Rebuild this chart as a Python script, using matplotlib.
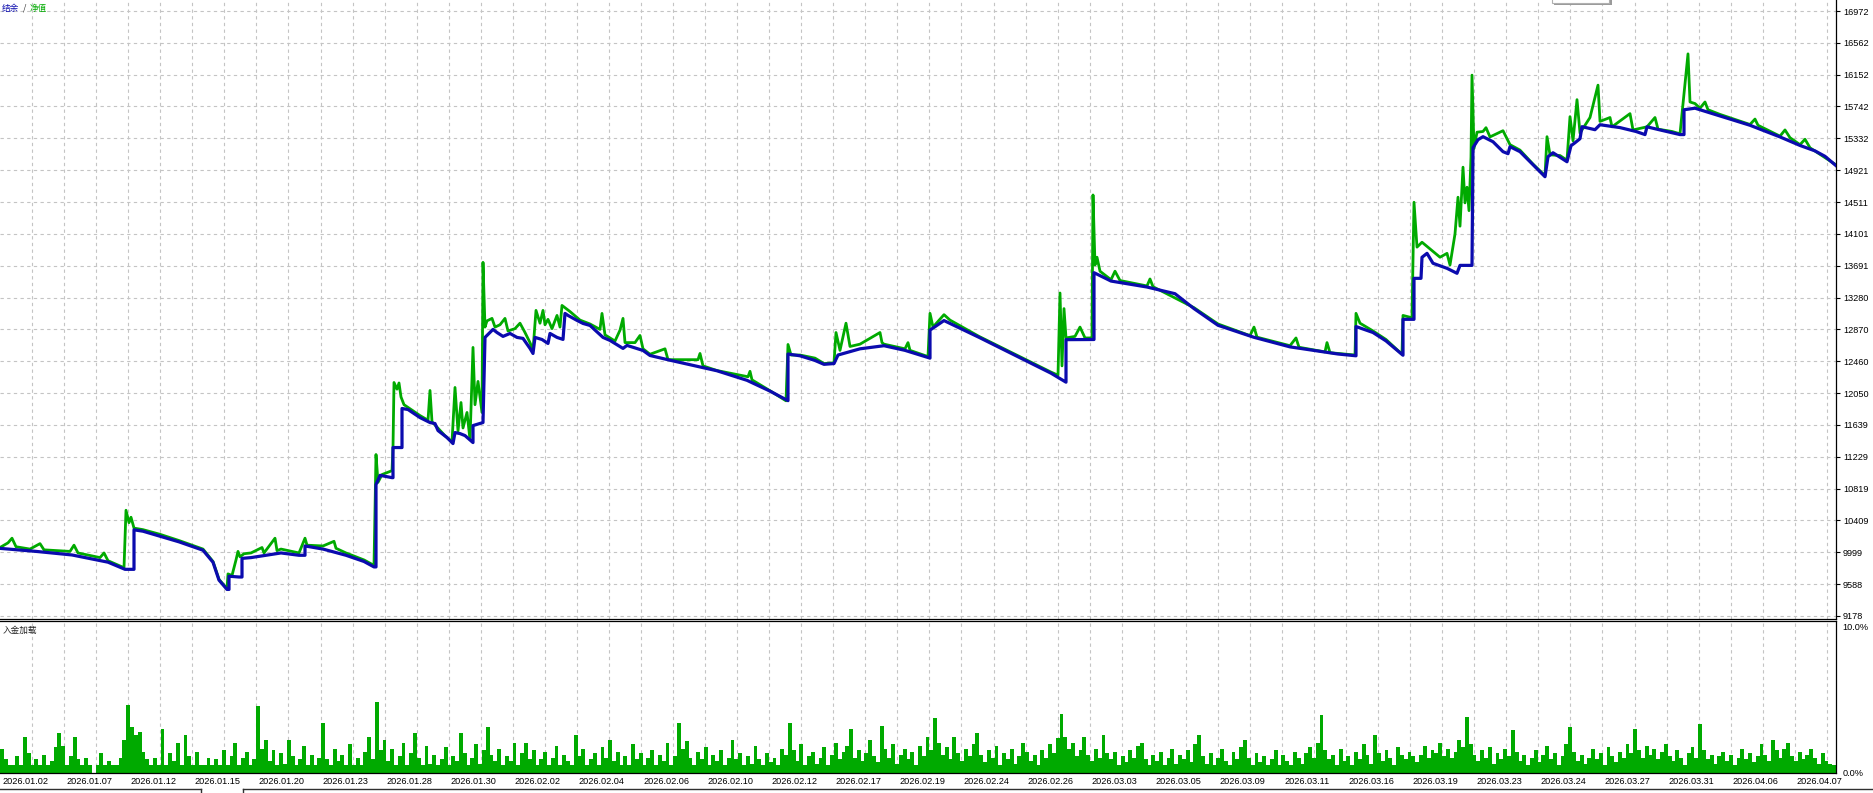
import matplotlib
matplotlib.use('Agg')
import matplotlib.pyplot as plt
from matplotlib.patches import Rectangle
from matplotlib.lines import Line2D
from matplotlib.transforms import ScaledTranslation
import numpy as np

# tester graph, x = bar position on the chart (0 .. 1836)
balance_x = [0, 36, 72, 108, 125, 134, 134, 143, 179, 203, 213, 219, 227, 229, 229, 239, 242, 242,
             251, 281, 299, 305, 305, 323, 346, 364, 374, 376, 376, 380, 392, 393, 393, 402, 402,
             408, 420, 430, 435, 438, 447, 453, 455, 460, 465, 473, 473, 483, 485, 493, 497, 503,
             510, 517, 523, 530, 533, 535, 542, 548, 550, 557, 563, 565, 568, 577, 583, 590, 603,
             610, 623, 627, 643, 650, 669, 717, 747, 770, 788, 788, 800, 815, 824, 834, 838, 860,
             884, 905, 930, 930, 944, 979, 1015, 1051, 1066, 1066, 1094, 1094, 1111, 1147, 1175,
             1194, 1218, 1254, 1290, 1338, 1356, 1356, 1373, 1386, 1403, 1403, 1414, 1414, 1421,
             1422, 1427, 1433, 1447, 1457, 1460, 1472, 1473, 1478, 1483, 1493, 1503, 1508, 1510,
             1520, 1533, 1545, 1548, 1553, 1567, 1571, 1575, 1580, 1582, 1595, 1600, 1620, 1636,
             1645, 1647, 1660, 1680, 1684, 1684, 1695, 1720, 1750, 1780, 1800, 1815, 1825, 1836]
balance_y = [10049, 10010, 9964, 9871, 9779, 9779, 10288, 10270, 10133, 10025, 9870, 9640, 9520,
             9520, 9690, 9680, 9680, 9920, 9930, 9990, 9960, 9960, 10080, 10040, 9960, 9880, 9810,
             9810, 10870, 10990, 10960, 10960, 11348, 11348, 11851, 11838, 11734, 11670, 11657,
             11567, 11477, 11399, 11541, 11528, 11502, 11412, 11631, 11670, 12767, 12870, 12830,
             12780, 12818, 12767, 12754, 12625, 12560, 12767, 12740, 12689, 12818, 12767, 12741,
             13076, 13050, 12986, 12947, 12921, 12767, 12728, 12625, 12664, 12599, 12534, 12476,
             12337, 12214, 12075, 11952, 12553, 12530, 12470, 12420, 12430, 12540, 12620, 12660,
             12600, 12500, 12861, 12984, 12768, 12537, 12306, 12190, 12738, 12740, 13601, 13493,
             13416, 13330, 13138, 12923, 12768, 12645, 12553, 12530, 12907, 12830, 12722, 12537,
             13000, 13000, 13528, 13528, 13799, 13850, 13722, 13657, 13593, 13695, 13695, 15211,
             15314, 15353, 15288, 15160, 15134, 15224, 15160, 14992, 14837, 15095, 15146, 15030,
             15237, 15275, 15327, 15482, 15443, 15507, 15470, 15420, 15380, 15480, 15440, 15380,
             15380, 15700, 15720, 15620, 15500, 15350, 15240, 15170, 15100, 14980]

equity_x = [0, 8, 12, 16, 30, 40, 44, 70, 74, 78, 100, 104, 108, 124, 126, 129, 131, 134, 143, 160,
            179, 203, 213, 219, 227, 228, 232, 236, 238, 240, 244, 251, 262, 264, 275, 277, 281,
            299, 305, 307, 323, 334, 336, 346, 364, 374, 376, 378, 382, 392, 393, 394, 397, 399,
            401, 404, 420, 428, 430, 432, 445, 452, 455, 458, 461, 463, 467, 470, 473, 475, 478,
            480, 482, 483, 485, 487, 492, 495, 500, 505, 508, 515, 520, 525, 530, 533, 536, 540,
            543, 545, 548, 552, 557, 560, 562, 565, 570, 580, 590, 600, 602, 605, 615, 620, 623,
            625, 635, 640, 643, 650, 665, 668, 698, 700, 703, 717, 748, 750, 752, 770, 786, 788,
            791, 800, 815, 824, 834, 836, 840, 846, 850, 860, 880, 882, 884, 905, 908, 910, 928,
            930, 933, 944, 950, 979, 1015, 1051, 1058, 1060, 1062, 1064, 1066, 1075, 1080, 1085,
            1092, 1093, 1095, 1097, 1100, 1111, 1115, 1120, 1147, 1150, 1153, 1194, 1218, 1250,
            1254, 1257, 1290, 1296, 1299, 1325, 1327, 1330, 1355, 1356, 1360, 1373, 1386, 1402,
            1403, 1412, 1414, 1417, 1422, 1440, 1447, 1450, 1455, 1458, 1460, 1463, 1465, 1467,
            1469, 1471, 1472, 1474, 1477, 1483, 1486, 1490, 1503, 1510, 1520, 1533, 1545, 1547,
            1550, 1560, 1567, 1570, 1573, 1577, 1580, 1585, 1590, 1598, 1600, 1610, 1612, 1630,
            1633, 1647, 1655, 1658, 1672, 1680, 1688, 1690, 1695, 1700, 1705, 1708, 1720, 1750,
            1755, 1758, 1780, 1785, 1790, 1800, 1805, 1810, 1836]
equity_y = [10060, 10120, 10180, 10070, 10040, 10110, 10030, 10010, 10090, 9990, 9930, 9990, 9890,
            9800, 10540, 10380, 10450, 10310, 10290, 10230, 10150, 10040, 9880, 9650, 9530, 9720,
            9700, 9900, 10010, 9940, 9980, 9990, 10060, 9990, 10180, 10020, 10040, 9990, 10180,
            10090, 10080, 10140, 10050, 9990, 9900, 9830, 11258, 10900, 11000, 11050, 11350, 12186,
            12100, 12180, 12000, 11900, 11760, 11700, 12083, 11680, 11500, 11420, 12122, 11560,
            11928, 11600, 11800, 11450, 12638, 11900, 12200, 12000, 11800, 13734, 12900, 12980,
            13012, 12900, 12930, 13012, 12850, 12880, 12950, 12830, 12700, 12600, 13115, 12950,
            13115, 12930, 13000, 12880, 13050, 12900, 13179, 13150, 13100, 12990, 12940, 12870,
            13076, 12800, 12720, 12860, 13012, 12700, 12700, 12792, 12620, 12550, 12620, 12480,
            12480, 12560, 12400, 12340, 12260, 12330, 12220, 12080, 11950, 12676, 12540, 12540,
            12500, 12430, 12440, 12830, 12600, 12950, 12650, 12680, 12830, 12700, 12680, 12620,
            12700, 12600, 12520, 13077, 12900, 13060, 12990, 12780, 12550, 12320, 12280, 13339,
            12400, 13138, 12760, 12780, 12900, 12760, 12760, 14602, 13700, 13800, 13620, 13510,
            13620, 13500, 13430, 13520, 13420, 13150, 12940, 12790, 12900, 12770, 12660, 12760,
            12640, 12580, 12700, 12570, 12540, 13077, 12950, 12850, 12740, 12550, 13050, 13020,
            14508, 13930, 13993, 13800, 13850, 13700, 14100, 14573, 14200, 14960, 14500, 14702,
            14400, 15090, 16146, 15200, 15411, 15420, 15469, 15350, 15430, 15250, 15180, 15000,
            14850, 15353, 15120, 15110, 15050, 15611, 15300, 15830, 15400, 15500, 15600, 16017,
            15550, 15600, 15480, 15650, 15440, 15480, 15600, 15450, 15420, 15390, 16420, 15800,
            15780, 15720, 15800, 15700, 15640, 15510, 15580, 15500, 15360, 15440, 15340, 15250,
            15320, 15210, 14990]

# deposit load, percent
load_pct = [1.6, 0.9, 0.5, 0.5, 1.1, 0.5, 2.4, 1.3, 0.5, 0.9,
            0.5, 1.2, 0.5, 0.8, 1.7, 2.6, 1.8, 0.5, 1.1, 2.4,
            0.9, 0.5, 1.0, 0.5, 0.0, 0.5, 1.3, 0.5, 0.8, 0.5,
            0.5, 1.0, 2.2, 4.5, 3.0, 2.5, 2.7, 1.4, 0.9, 0.5,
            1.0, 0.5, 2.9, 0.5, 1.3, 0.8, 2.0, 0.5, 2.5, 1.1,
            0.5, 1.4, 0.5, 0.5, 1.0, 0.5, 0.9, 0.5, 1.5, 0.5,
            1.1, 2.0, 0.5, 1.0, 1.4, 0.5, 0.9, 4.4, 1.6, 2.2,
            0.8, 1.5, 0.5, 1.3, 0.6, 2.2, 1.1, 0.5, 0.9, 1.8,
            0.5, 1.2, 0.5, 1.0, 3.3, 0.9, 0.5, 1.6, 0.8, 1.2,
            0.5, 1.9, 0.5, 1.0, 0.5, 1.4, 2.4, 0.9, 4.7, 1.5,
            2.2, 0.8, 1.6, 0.5, 1.1, 2.0, 0.5, 1.3, 2.6, 1.0,
            0.5, 1.8, 0.6, 1.2, 0.5, 0.9, 1.7, 0.5, 1.1, 0.8,
            2.6, 1.3, 0.5, 1.0, 1.9, 0.6, 1.5, 3.0, 1.2, 0.8,
            1.6, 0.5, 1.1, 0.8, 2.0, 0.5, 1.3, 2.0, 0.9, 1.5,
            0.5, 0.9, 1.4, 0.5, 1.0, 1.8, 0.5, 1.2, 0.8, 0.5,
            2.5, 1.1, 1.6, 0.5, 0.9, 1.3, 0.5, 1.7, 1.0, 2.2,
            0.8, 1.4, 0.5, 1.1, 0.5, 1.9, 0.9, 1.3, 0.5, 1.0,
            1.5, 0.5, 1.2, 0.8, 2.0, 0.5, 1.1, 3.3, 1.6, 2.1,
            1.0, 0.5, 1.4, 0.9, 1.7, 0.5, 1.2, 0.8, 1.5, 0.5,
            1.0, 2.2, 0.9, 1.3, 0.5, 1.1, 0.6, 1.8, 0.9, 0.5,
            1.3, 0.7, 1.0, 0.5, 1.6, 1.2, 3.3, 1.5, 0.8, 1.9,
            0.5, 1.1, 1.4, 0.6, 1.0, 1.7, 0.5, 1.2, 2.0, 0.9,
            1.4, 1.8, 2.9, 1.0, 1.5, 0.8, 1.3, 2.2, 1.1, 0.7,
            3.1, 1.6, 1.0, 1.9, 0.6, 1.2, 1.6, 0.9, 1.4, 0.5,
            1.8, 1.1, 2.4, 1.5, 3.6, 2.0, 1.2, 1.7, 0.9, 2.4,
            1.3, 0.8, 1.6, 1.1, 1.9, 2.6, 1.2, 0.7, 1.5, 1.0,
            1.8, 0.5, 1.3, 0.9, 1.6, 0.6, 1.1, 2.0, 1.4, 0.8,
            1.2, 0.5, 1.5, 1.0, 1.9, 1.3, 2.3, 3.9, 2.4, 1.6,
            2.0, 1.1, 1.5, 2.4, 1.2, 0.8, 1.6, 1.0, 2.5, 1.3,
            0.9, 1.4, 0.5, 1.1, 0.7, 1.5, 1.0, 1.8, 2.0, 0.9,
            0.5, 1.2, 0.8, 1.4, 0.5, 1.0, 1.6, 0.6, 1.2, 0.9,
            1.5, 0.7, 1.9, 2.5, 1.1, 0.6, 1.3, 0.5, 1.0, 1.6,
            0.8, 0.5, 1.4, 0.9, 1.7, 2.2, 1.0, 0.5, 1.3, 0.7,
            1.1, 0.5, 0.9, 1.5, 0.5, 1.2, 0.8, 0.5, 1.4, 1.0,
            0.6, 1.3, 1.7, 1.0, 2.0, 3.8, 1.5, 0.9, 1.2, 0.5,
            1.6, 0.8, 1.1, 0.5, 1.4, 0.9, 1.9, 1.2, 0.6, 2.5,
            1.3, 0.8, 1.5, 1.0, 0.5, 1.7, 1.2, 0.9, 1.4, 1.1,
            0.7, 1.2, 1.8, 1.0, 1.5, 1.3, 2.0, 1.1, 1.6, 1.0,
            1.4, 2.2, 1.7, 3.7, 1.9, 1.2, 0.8, 1.5, 1.0, 1.7,
            0.6, 1.3, 0.9, 1.6, 1.1, 2.8, 1.4, 0.8, 1.2, 0.5,
            1.0, 1.5, 0.7, 1.2, 1.8, 0.9, 1.3, 0.5, 1.1, 1.9,
            3.0, 1.4, 0.8, 1.2, 0.6, 1.0, 1.6, 0.9, 1.3, 0.5,
            1.7, 1.1, 0.7, 1.4, 1.0, 1.9, 1.3, 2.9, 1.5, 1.0,
            1.8, 1.2, 1.6, 0.9, 1.4, 1.9, 1.1, 0.8, 1.5, 1.0,
            0.5, 1.3, 1.7, 1.0, 3.2, 1.5, 0.9, 1.2, 0.6, 1.1,
            1.4, 0.8, 1.2, 0.5, 1.0, 1.6, 0.9, 1.3, 0.7, 1.1,
            1.9, 1.2, 0.8, 2.2, 1.5, 1.0, 1.6, 2.0, 1.1, 0.8,
            1.4, 0.9, 1.2, 1.6, 1.0, 0.6, 1.3, 0.8, 0.6, 0.5]

date_labels = ['2026.01.02', '2026.01.07', '2026.01.12', '2026.01.15', '2026.01.20', '2026.01.23',
               '2026.01.28', '2026.01.30', '2026.02.02', '2026.02.04', '2026.02.06', '2026.02.10',
               '2026.02.12', '2026.02.17', '2026.02.19', '2026.02.24', '2026.02.26', '2026.03.03',
               '2026.03.05', '2026.03.09', '2026.03.11', '2026.03.16', '2026.03.19', '2026.03.23',
               '2026.03.24', '2026.03.27', '2026.03.31', '2026.04.06', '2026.04.07']
price_labels = ['9178', '9588', '9999', '10409', '10819', '11229', '11639', '12050', '12460', '12870',
                '13280', '13691', '14101', '14511', '14921', '15332', '15742', '16152', '16562', '16972']

W, H = 1873, 793
GREEN = '#00aa00'
BLUE = '#0b0bae'
GRID = '#c4c4c4'
num_font = 'Liberation Sans'
cjk = ['Noto Sans CJK SC', 'DejaVu Sans']

fig = plt.figure(figsize=(W / 100, H / 100), dpi=100)
fig.patch.set_facecolor('white')
ax = fig.add_axes([0, 1 - 619 / H, 1836 / W, 619 / H])
ax2 = fig.add_axes([0, 1 - 773 / H, 1836 / W, (773 - 621) / H])

x_end = 1836
label_step = 64.1
grid_x = np.arange(1, 58) * label_step / 2

for a in (ax, ax2):
    a.set_xlim(0, x_end)
    for s in ('left', 'top'):
        a.spines[s].set_visible(False)
    for s in ('right', 'bottom'):
        a.spines[s].set_linewidth(0.9)
        a.spines[s].set_color('black')
    for gx in grid_x:
        a.axvline(gx, color=GRID, lw=0.8, dashes=(3, 3), zorder=0)
ax2.spines['top'].set_visible(True)
ax2.spines['top'].set_linewidth(0.9)

# main panel
ax.set_ylim(9139, 17114)
price_vals = [float(p) for p in price_labels]
for v in price_vals:
    ax.axhline(v, color=GRID, lw=0.8, dashes=(3, 3), zorder=0)
ax.plot(equity_x, equity_y, color=GREEN, lw=2.0, zorder=2)
ax.plot(balance_x, balance_y, color=BLUE, lw=2.3, zorder=3)
ax.yaxis.tick_right()
ax.set_yticks(price_vals)
ax.set_yticklabels(price_labels, fontsize=6.6, family=num_font)
ax.tick_params(axis='y', length=3, width=0.8, pad=2)
ax.set_xticks([])

# deposit load panel
n = len(load_pct)
bar_w = x_end / n
ax2.bar(np.arange(n) * bar_w, load_pct, width=bar_w, align='edge', color=GREEN, lw=0, zorder=2)
ax2.set_ylim(0, 10)
ax2.yaxis.tick_right()
ax2.set_yticks([0])
ax2.set_yticklabels(['0.0%'], fontsize=6.6, family=num_font)
ax2.tick_params(axis='y', length=0, pad=5)
ax2.set_xticks(np.arange(len(date_labels)) * label_step)
ax2.set_xticklabels(date_labels, fontsize=6.6, family=num_font, ha='left')
ax2.tick_params(axis='x', length=0, pad=3)
for lab in ax2.get_xticklabels():
    lab.set_transform(lab.get_transform() + ScaledTranslation(2 / 100, 0, fig.dpi_scale_trans))

fig.text(1842 / W, 1 - 628 / H, '10.0%', fontsize=6.6, family=num_font, va='center', ha='left')

# panel titles
fig.text(2 / W, 1 - 8 / H, '结余', fontsize=6.2, family=cjk, color=BLUE, va='center')
fig.text(23 / W, 1 - 8 / H, '/', fontsize=6.2, family=cjk, color='#333333', va='center')
fig.text(30 / W, 1 - 8 / H, '净值', fontsize=6.2, family=cjk, color=GREEN, va='center')
fig.text(3 / W, 1 - 630 / H, '入金加载', fontsize=6.2, family=cjk, color='#222222', va='center')

# tooltip edge at the top and tab strip at the bottom
fig.add_artist(Rectangle((1554 / W, 1 - 5 / H), 58 / W, 10 / H, transform=fig.transFigure,
                         facecolor='#9a9a9a', edgecolor='none'))
fig.add_artist(Rectangle((1552 / W, 1 - 3 / H), 57 / W, 10 / H, transform=fig.transFigure,
                         facecolor='white', edgecolor='#b0b0b0', lw=0.8))
for x0, x1 in ((0, 201), (243, 1873)):
    fig.add_artist(Line2D([x0 / W, x1 / W], [1 - 789 / H, 1 - 789 / H], transform=fig.transFigure,
                          color='#303030', lw=1.0))
for xv in (201, 243):
    fig.add_artist(Line2D([xv / W, xv / W], [0, 1 - 789 / H], transform=fig.transFigure,
                          color='#303030', lw=1.0))

fig.savefig('out.png', dpi=100)
